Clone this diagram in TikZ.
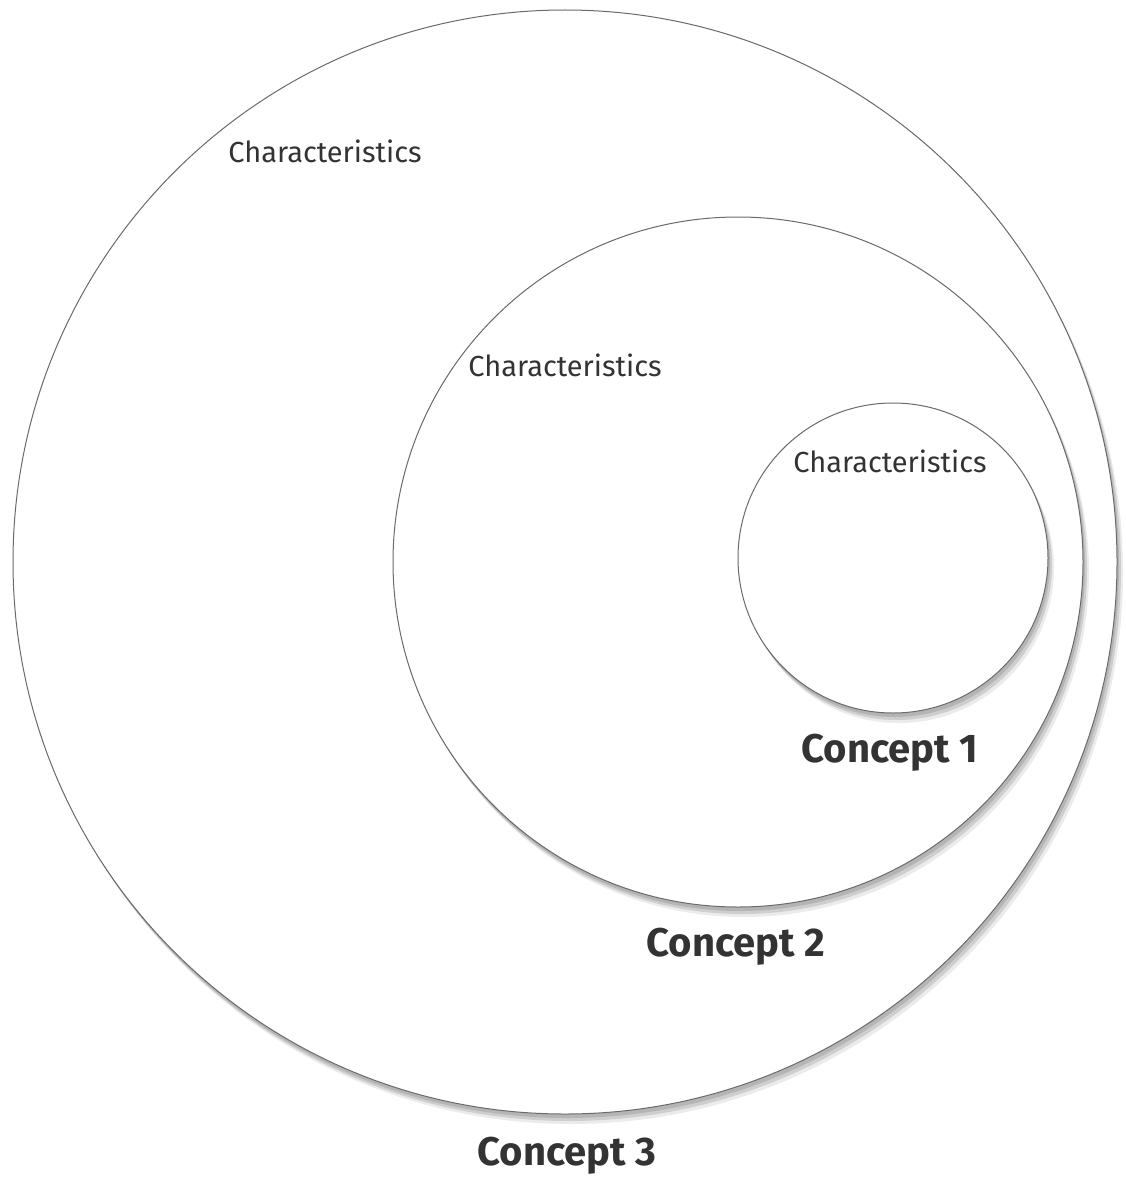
\documentclass[tikz,border=0pt]{standalone}
\usepackage{fontspec}
\setmainfont{Fira Sans}
\usepackage{tikz}
\usetikzlibrary{shadows,positioning}

\definecolor{ringline}{HTML}{6A6A6A}
\definecolor{labeltext}{HTML}{333333}

\begin{document}
\begin{tikzpicture}[x=1pt,y=-1pt,
  ring/.style={circle, draw=ringline, line width=1pt, fill=white, inner sep=0pt,
    drop shadow={shadow xshift=6pt, shadow yshift=-10pt, fill=black, opacity=0.08},
    drop shadow={shadow xshift=4pt, shadow yshift=-7pt, fill=black, opacity=0.12},
    drop shadow={shadow xshift=2pt, shadow yshift=-4pt, fill=black, opacity=0.12}},
  charlabel/.style={text=labeltext, font=\fontsize{29}{32}\selectfont, inner sep=0pt},
  namelabel/.style={text=labeltext, font=\fontsize{40}{44}\selectfont\bfseries, inner sep=0pt}]

\useasboundingbox (0,0) rectangle (1125,1180);

\node[ring, minimum size=1104pt] (c3) at (565,562) {};
\node[ring, minimum size=690pt] (c2) at (738,562) {};
\node[ring, minimum size=310pt] (c1) at (893,558) {};

\node[charlabel] (char3) at (325,151) {Characteristics};
\node[charlabel] (char2) at (565,365) {Characteristics};
\node[charlabel] (char1) at (890,461) {Characteristics};

\node[namelabel] (name1) at (890,753) {Concept 1};
\node[namelabel] (name2) at (736,947) {Concept 2};
\node[namelabel] (name3) at (567,1156) {Concept 3};

\end{tikzpicture}
\end{document}
